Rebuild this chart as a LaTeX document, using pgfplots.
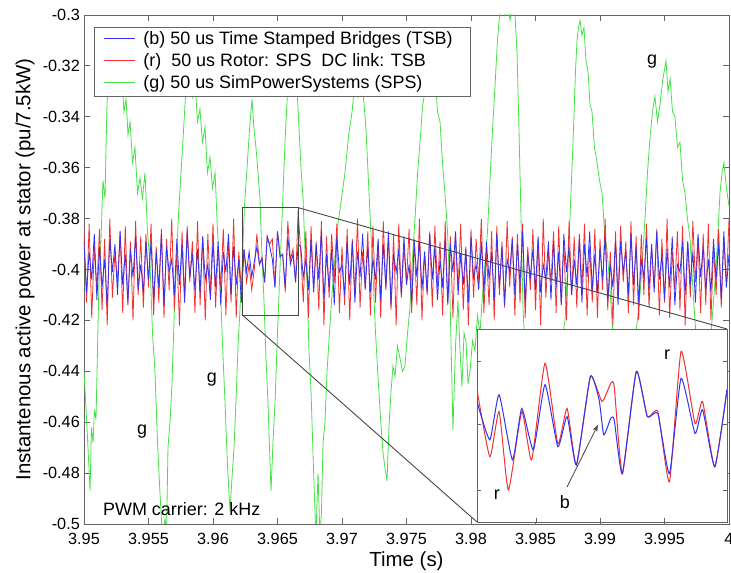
\documentclass[border=0pt]{standalone}
\usepackage{fontspec}
\setmainfont{Liberation Sans}
\usepackage{pgfplots}
\usepackage{pgfplotstable}
\pgfplotsset{compat=1.18}
\usetikzlibrary{arrows.meta}

\definecolor{tsb}{RGB}{50,50,240}
\definecolor{rot}{RGB}{240,50,50}
\definecolor{sps}{RGB}{70,225,70}
\definecolor{frame}{RGB}{100,100,100}
\definecolor{zoomline}{RGB}{70,70,70}

% stator power, TSB (b) and rotor SPS / DC link TSB (r)
\pgfplotstableread{
x b r
3.9500 -0.389 -0.386
3.9502 -0.409 -0.413
3.9504 -0.393 -0.382
3.9506 -0.404 -0.419
3.9508 -0.386 -0.391
3.9510 -0.412 -0.408
3.9512 -0.391 -0.384
3.9514 -0.407 -0.416
3.9516 -0.396 -0.388
3.9518 -0.414 -0.422
3.9520 -0.388 -0.380
3.9522 -0.401 -0.411
3.9524 -0.390 -0.393
3.9526 -0.410 -0.405
3.9528 -0.385 -0.385
3.9530 -0.406 -0.417
3.9532 -0.394 -0.383
3.9534 -0.413 -0.414
3.9536 -0.392 -0.389
3.9538 -0.403 -0.420
3.9540 -0.387 -0.381
3.9542 -0.408 -0.410
3.9544 -0.398 -0.387
3.9546 -0.409 -0.415
3.9548 -0.389 -0.386
3.9550 -0.404 -0.407
3.9552 -0.389 -0.382
3.9554 -0.412 -0.418
3.9556 -0.393 -0.391
3.9558 -0.407 -0.413
3.9560 -0.386 -0.384
3.9562 -0.414 -0.419
3.9564 -0.391 -0.388
3.9566 -0.401 -0.408
3.9568 -0.396 -0.380
3.9570 -0.410 -0.416
3.9572 -0.388 -0.393
3.9574 -0.406 -0.422
3.9576 -0.390 -0.385
3.9578 -0.413 -0.411
3.9580 -0.385 -0.383
3.9582 -0.403 -0.405
3.9584 -0.394 -0.389
3.9586 -0.408 -0.417
3.9588 -0.392 -0.381
3.9590 -0.409 -0.414
3.9592 -0.387 -0.387
3.9594 -0.404 -0.420
3.9596 -0.398 -0.386
3.9598 -0.412 -0.410
3.9600 -0.389 -0.382
3.9602 -0.407 -0.415
3.9604 -0.389 -0.391
3.9606 -0.414 -0.407
3.9608 -0.393 -0.384
3.9610 -0.401 -0.418
3.9612 -0.386 -0.388
3.9614 -0.410 -0.413
3.9616 -0.391 -0.380
3.9618 -0.406 -0.419
3.9620 -0.396 -0.393
3.9622 -0.413 -0.408
3.9624 -0.392 -0.392
3.9626 -0.401 -0.405
3.9628 -0.393 -0.398
3.9630 -0.403 -0.408
3.9632 -0.397 -0.400
3.9634 -0.391 -0.386
3.9636 -0.398 -0.398
3.9638 -0.396 -0.395
3.9640 -0.405 -0.405
3.9642 -0.387 -0.387
3.9644 -0.391 -0.390
3.9646 -0.396 -0.388
3.9648 -0.407 -0.407
3.9650 -0.385 -0.385
3.9652 -0.395 -0.395
3.9654 -0.394 -0.394
3.9656 -0.407 -0.409
3.9658 -0.387 -0.381
3.9660 -0.398 -0.396
3.9662 -0.394 -0.392
3.9664 -0.405 -0.405
3.9666 -0.390 -0.377
3.9668 -0.391 -0.393
3.9670 -0.403 -0.413
3.9672 -0.396 -0.385
3.9674 -0.408 -0.419
3.9676 -0.388 -0.383
3.9678 -0.409 -0.408
3.9680 -0.390 -0.389
3.9682 -0.404 -0.416
3.9684 -0.385 -0.381
3.9686 -0.412 -0.422
3.9688 -0.394 -0.387
3.9690 -0.407 -0.411
3.9692 -0.392 -0.386
3.9694 -0.414 -0.405
3.9696 -0.387 -0.382
3.9698 -0.401 -0.417
3.9700 -0.398 -0.391
3.9702 -0.410 -0.414
3.9704 -0.389 -0.384
3.9706 -0.406 -0.420
3.9708 -0.389 -0.388
3.9710 -0.413 -0.410
3.9712 -0.393 -0.380
3.9714 -0.403 -0.415
3.9716 -0.386 -0.393
3.9718 -0.408 -0.407
3.9720 -0.391 -0.385
3.9722 -0.409 -0.418
3.9724 -0.396 -0.383
3.9726 -0.404 -0.413
3.9728 -0.388 -0.389
3.9730 -0.412 -0.419
3.9732 -0.390 -0.381
3.9734 -0.407 -0.408
3.9736 -0.385 -0.387
3.9738 -0.414 -0.416
3.9740 -0.394 -0.386
3.9742 -0.401 -0.422
3.9744 -0.392 -0.382
3.9746 -0.410 -0.411
3.9748 -0.387 -0.391
3.9750 -0.406 -0.405
3.9752 -0.398 -0.384
3.9754 -0.413 -0.417
3.9756 -0.389 -0.388
3.9758 -0.403 -0.414
3.9760 -0.389 -0.380
3.9762 -0.408 -0.420
3.9764 -0.393 -0.393
3.9766 -0.409 -0.410
3.9768 -0.386 -0.385
3.9770 -0.404 -0.415
3.9772 -0.391 -0.383
3.9774 -0.412 -0.407
3.9776 -0.396 -0.389
3.9778 -0.407 -0.418
3.9780 -0.388 -0.381
3.9782 -0.414 -0.413
3.9784 -0.390 -0.387
3.9786 -0.401 -0.419
3.9788 -0.385 -0.386
3.9790 -0.410 -0.408
3.9792 -0.394 -0.382
3.9794 -0.406 -0.416
3.9796 -0.392 -0.391
3.9798 -0.413 -0.422
3.9800 -0.387 -0.384
3.9802 -0.403 -0.411
3.9804 -0.398 -0.388
3.9806 -0.408 -0.405
3.9808 -0.389 -0.380
3.9810 -0.409 -0.417
3.9812 -0.389 -0.393
3.9814 -0.404 -0.414
3.9816 -0.393 -0.385
3.9818 -0.412 -0.420
3.9820 -0.386 -0.383
3.9822 -0.407 -0.410
3.9824 -0.391 -0.389
3.9826 -0.414 -0.415
3.9828 -0.396 -0.381
3.9830 -0.401 -0.407
3.9832 -0.388 -0.387
3.9834 -0.410 -0.418
3.9836 -0.390 -0.386
3.9838 -0.406 -0.413
3.9840 -0.385 -0.382
3.9842 -0.413 -0.419
3.9844 -0.394 -0.391
3.9846 -0.403 -0.408
3.9848 -0.392 -0.384
3.9850 -0.408 -0.416
3.9852 -0.387 -0.388
3.9854 -0.409 -0.422
3.9856 -0.398 -0.380
3.9858 -0.404 -0.411
3.9860 -0.389 -0.393
3.9862 -0.412 -0.405
3.9864 -0.389 -0.385
3.9866 -0.407 -0.417
3.9868 -0.393 -0.383
3.9870 -0.414 -0.414
3.9872 -0.386 -0.389
3.9874 -0.401 -0.420
3.9876 -0.391 -0.381
3.9878 -0.410 -0.410
3.9880 -0.396 -0.387
3.9882 -0.406 -0.415
3.9884 -0.388 -0.386
3.9886 -0.413 -0.407
3.9888 -0.390 -0.382
3.9890 -0.403 -0.418
3.9892 -0.385 -0.391
3.9894 -0.408 -0.413
3.9896 -0.394 -0.384
3.9898 -0.409 -0.419
3.9900 -0.392 -0.388
3.9902 -0.404 -0.408
3.9904 -0.387 -0.380
3.9906 -0.412 -0.416
3.9908 -0.398 -0.393
3.9910 -0.407 -0.422
3.9912 -0.389 -0.385
3.9914 -0.414 -0.411
3.9916 -0.389 -0.383
3.9918 -0.401 -0.405
3.9920 -0.393 -0.389
3.9922 -0.410 -0.417
3.9924 -0.386 -0.381
3.9926 -0.406 -0.414
3.9928 -0.391 -0.387
3.9930 -0.413 -0.420
3.9932 -0.396 -0.386
3.9934 -0.403 -0.410
3.9936 -0.388 -0.382
3.9938 -0.408 -0.415
3.9940 -0.390 -0.391
3.9942 -0.409 -0.407
3.9944 -0.385 -0.384
3.9946 -0.404 -0.418
3.9948 -0.394 -0.388
3.9950 -0.412 -0.413
3.9952 -0.392 -0.380
3.9954 -0.407 -0.419
3.9956 -0.387 -0.393
3.9958 -0.414 -0.408
3.9960 -0.398 -0.385
3.9962 -0.401 -0.416
3.9964 -0.389 -0.383
3.9966 -0.410 -0.422
3.9968 -0.389 -0.389
3.9970 -0.406 -0.411
3.9972 -0.393 -0.381
3.9974 -0.413 -0.405
3.9976 -0.386 -0.387
3.9978 -0.403 -0.417
3.9980 -0.391 -0.386
3.9982 -0.408 -0.414
3.9984 -0.396 -0.382
3.9986 -0.409 -0.420
3.9988 -0.388 -0.391
3.9990 -0.404 -0.410
3.9992 -0.390 -0.384
3.9994 -0.412 -0.415
3.9996 -0.385 -0.388
3.9998 -0.407 -0.407
4.0000 -0.394 -0.380
}\bandtab

\begin{document}
\begin{tikzpicture}
\begin{axis}[
    name=main, at={(0,0)}, anchor=south west,
    width=645bp, height=509bp, scale only axis,
    xmin=3.95, xmax=4, ymin=-0.5, ymax=-0.3,
    xtick={3.95,3.955,3.96,3.965,3.97,3.975,3.98,3.985,3.99,3.995,4},
    xticklabels={3.95,3.955,3.96,3.965,3.97,3.975,3.98,3.985,3.99,3.995,4},
    ytick={-0.5,-0.48,-0.46,-0.44,-0.42,-0.4,-0.38,-0.36,-0.34,-0.32,-0.3},
    yticklabels={-0.5,-0.48,-0.46,-0.44,-0.42,-0.4,-0.38,-0.36,-0.34,-0.32,-0.3},
    tick align=inside, major tick length=6bp,
    axis line style={frame, line width=0.9bp},
    tick style={frame, line width=0.8bp},
    tick label style={font=\fontsize{16.3}{18}\selectfont},
    xticklabel style={inner sep=2bp, yshift=-7bp},
    yticklabel style={inner sep=2bp, xshift=-2bp},
    xlabel={Time (s)},
    ylabel={Instantenous active power at stator (pu/7.5kW)},
    label style={font=\fontsize{20.5}{22}\selectfont},
    xlabel style={at={(axis description cs:0.5,-0.0727)}, anchor=center},
    ylabel style={at={(axis description cs:-0.0915,0.5)}, anchor=center},
]
\addplot[sps, line width=0.8bp] table {
x y
3.95000 -0.440
3.95016 -0.455
3.95031 -0.470
3.95047 -0.487
3.95058 -0.462
3.95070 -0.468
3.95081 -0.455
3.95093 -0.459
3.95116 -0.405
3.95132 -0.388
3.95147 -0.365
3.95163 -0.372
3.95178 -0.335
3.95198 -0.322
3.95217 -0.312
3.95236 -0.325
3.95256 -0.318
3.95275 -0.330
3.95295 -0.326
3.95310 -0.338
3.95326 -0.333
3.95341 -0.347
3.95357 -0.342
3.95376 -0.358
3.95395 -0.352
3.95415 -0.370
3.95434 -0.364
3.95453 -0.372
3.95473 -0.362
3.95492 -0.385
3.95512 -0.398
3.95531 -0.425
3.95550 -0.440
3.95570 -0.468
3.95589 -0.488
3.95608 -0.505
3.95628 -0.498
3.95640 -0.503
3.95651 -0.470
3.95667 -0.460
3.95682 -0.445
3.95698 -0.420
3.95713 -0.400
3.95733 -0.378
3.95752 -0.362
3.95772 -0.345
3.95791 -0.328
3.95806 -0.322
3.95822 -0.316
3.95841 -0.332
3.95860 -0.326
3.95880 -0.342
3.95899 -0.337
3.95918 -0.350
3.95938 -0.344
3.95957 -0.362
3.95977 -0.356
3.95996 -0.368
3.96016 -0.362
3.96035 -0.385
3.96054 -0.402
3.96074 -0.430
3.96093 -0.452
3.96113 -0.478
3.96132 -0.495
3.96147 -0.482
3.96163 -0.470
3.96178 -0.452
3.96194 -0.430
3.96210 -0.415
3.96225 -0.400
3.96244 -0.375
3.96264 -0.360
3.96283 -0.345
3.96302 -0.333
3.96318 -0.345
3.96333 -0.352
3.96349 -0.362
3.96364 -0.372
3.96380 -0.395
3.96395 -0.412
3.96411 -0.435
3.96426 -0.452
3.96438 -0.470
3.96450 -0.487
3.96465 -0.468
3.96481 -0.452
3.96500 -0.425
3.96519 -0.400
3.96539 -0.375
3.96558 -0.350
3.96573 -0.335
3.96589 -0.318
3.96605 -0.322
3.96620 -0.312
3.96636 -0.330
3.96651 -0.328
3.96667 -0.345
3.96682 -0.360
3.96698 -0.372
3.96713 -0.392
3.96729 -0.405
3.96744 -0.432
3.96760 -0.448
3.96775 -0.472
3.96787 -0.490
3.96798 -0.505
3.96814 -0.480
3.96829 -0.505
3.96841 -0.495
3.96853 -0.468
3.96868 -0.460
3.96884 -0.440
3.96903 -0.425
3.96922 -0.410
3.96946 -0.395
3.96969 -0.382
3.96996 -0.372
3.97023 -0.362
3.97050 -0.348
3.97078 -0.338
3.97101 -0.326
3.97124 -0.332
3.97147 -0.322
3.97171 -0.335
3.97186 -0.345
3.97202 -0.362
3.97221 -0.382
3.97240 -0.402
3.97260 -0.425
3.97279 -0.442
3.97298 -0.458
3.97318 -0.472
3.97333 -0.478
3.97349 -0.483
3.97364 -0.462
3.97380 -0.448
3.97395 -0.438
3.97411 -0.442
3.97430 -0.430
3.97450 -0.435
3.97469 -0.440
3.97488 -0.438
3.97508 -0.425
3.97527 -0.415
3.97547 -0.395
3.97566 -0.380
3.97586 -0.362
3.97605 -0.350
3.97624 -0.336
3.97643 -0.330
3.97663 -0.322
3.97682 -0.318
3.97702 -0.327
3.97721 -0.323
3.97740 -0.338
3.97760 -0.342
3.97779 -0.358
3.97798 -0.370
3.97818 -0.385
3.97837 -0.410
3.97860 -0.463
3.97880 -0.430
3.97899 -0.412
3.97915 -0.432
3.97930 -0.446
3.97946 -0.425
3.97961 -0.428
3.97977 -0.445
3.97992 -0.440
3.98012 -0.428
3.98031 -0.432
3.98050 -0.418
3.98070 -0.425
3.98089 -0.410
3.98109 -0.398
3.98128 -0.385
3.98147 -0.365
3.98167 -0.345
3.98186 -0.328
3.98205 -0.310
3.98225 -0.298
3.98244 -0.292
3.98264 -0.300
3.98283 -0.295
3.98302 -0.302
3.98322 -0.296
3.98341 -0.300
3.98357 -0.315
3.98372 -0.345
3.98388 -0.380
3.98403 -0.415
3.98419 -0.432
3.98434 -0.440
3.98465 -0.435
3.98496 -0.442
3.98535 -0.448
3.98574 -0.452
3.98612 -0.446
3.98651 -0.440
3.98690 -0.432
3.98729 -0.420
3.98748 -0.400
3.98767 -0.380
3.98783 -0.360
3.98798 -0.340
3.98810 -0.322
3.98822 -0.310
3.98833 -0.305
3.98845 -0.302
3.98860 -0.308
3.98876 -0.305
3.98891 -0.318
3.98907 -0.322
3.98922 -0.335
3.98938 -0.338
3.98957 -0.352
3.98977 -0.358
3.98996 -0.365
3.99016 -0.370
3.99035 -0.385
3.99054 -0.392
3.99074 -0.405
3.99093 -0.420
3.99116 -0.435
3.99140 -0.450
3.99167 -0.458
3.99194 -0.462
3.99221 -0.452
3.99248 -0.440
3.99279 -0.425
3.99310 -0.410
3.99330 -0.395
3.99349 -0.380
3.99368 -0.362
3.99388 -0.348
3.99407 -0.338
3.99426 -0.332
3.99446 -0.342
3.99465 -0.335
3.99488 -0.325
3.99512 -0.318
3.99527 -0.330
3.99543 -0.325
3.99562 -0.338
3.99581 -0.340
3.99601 -0.352
3.99620 -0.350
3.99640 -0.365
3.99659 -0.370
3.99678 -0.380
3.99698 -0.388
3.99717 -0.405
3.99736 -0.420
3.99764 -0.438
3.99791 -0.450
3.99822 -0.445
3.99853 -0.430
3.99876 -0.415
3.99899 -0.400
3.99915 -0.385
3.99930 -0.370
3.99946 -0.362
3.99961 -0.358
3.99980 -0.368
4.00000 -0.375
};
\addplot[rot, line width=0.8bp] table[x=x, y=r] {\bandtab};
\addplot[tsb, line width=0.8bp] table[x=x, y=b] {\bandtab};

\draw[zoomline, line width=0.9bp] (axis cs:3.9623,-0.418) rectangle (axis cs:3.9666,-0.3757);
\coordinate (zTR) at (axis cs:3.9666,-0.3757);
\coordinate (zBL) at (axis cs:3.9623,-0.418);

\node[font=\fontsize{18}{18}\selectfont] at (axis cs:3.99403,-0.3184) {g};
\node[font=\fontsize{18}{18}\selectfont] at (axis cs:3.95992,-0.4431) {g};
\node[font=\fontsize{18}{18}\selectfont] at (axis cs:3.95450,-0.4635) {g};
\node[font=\fontsize{18}{18}\selectfont, anchor=west, inner sep=0pt]
    at (axis cs:3.95147,-0.4941) {PWM carrier: 2 kHz};

% legend box, sample lines drawn separately
\node[draw=frame, line width=0.9bp, fill=white, anchor=north west,
      inner xsep=10bp, inner ysep=1.5bp,
      font=\fontsize{18}{22}\selectfont] (leg)
    at (rel axis cs:0.0155,0.9764) {%
    \begin{tabular}{@{}l@{\hspace{8bp}}l@{\hspace{8bp}}}
    \hspace{31bp} & (b) 50 us Time Stamped Bridges (TSB)\\
    & (r)\ \ 50 us Rotor: SPS\ \ DC link: TSB\\
    & (g) 50 us SimPowerSystems (SPS)
    \end{tabular}};
\draw[tsb, line width=0.9bp] ([xshift=10bp, yshift=-11bp]leg.north west) -- ++(31bp,0bp);
\draw[rot, line width=0.9bp] ([xshift=10bp, yshift=-33bp]leg.north west) -- ++(31bp,0bp);
\draw[sps, line width=0.9bp] ([xshift=10bp, yshift=-55bp]leg.north west) -- ++(31bp,0bp);
\end{axis}

\draw[zoomline, line width=0.9bp] (zTR) -- (643bp,195bp);
\draw[zoomline, line width=0.9bp] (zBL) -- (393bp,2bp);

\begin{axis}[
    name=inset, at={(393bp,2bp)}, anchor=south west,
    width=250bp, height=193bp, scale only axis,
    xmin=3.9623, xmax=3.9666, ymin=-0.418, ymax=-0.3757,
    axis background/.style={fill=white},
    xtick={3.96333,3.96443,3.96553}, xticklabels={},
    ytick={-0.411,-0.3967,-0.3829}, yticklabels={},
    xtick pos=left,
    tick align=inside, major tick length=4bp,
    axis line style={frame, line width=0.9bp},
    tick style={frame, line width=0.8bp},
]
\addplot[rot, line width=1bp, smooth, tension=0.3] coordinates {
(3.96230,-0.3890) (3.96252,-0.4037) (3.96268,-0.3938) (3.96284,-0.4110)
(3.96307,-0.3938) (3.96324,-0.4044) (3.96347,-0.3832) (3.96369,-0.4008)
(3.96385,-0.3931) (3.96401,-0.4055) (3.96425,-0.3861) (3.96445,-0.3916)
(3.96460,-0.3876) (3.96466,-0.3883) (3.96480,-0.4074) (3.96504,-0.3850)
(3.96523,-0.3949) (3.96541,-0.3938) (3.96561,-0.4092) (3.96581,-0.3806)
(3.96605,-0.3964) (3.96618,-0.3916) (3.96639,-0.4059) (3.96660,-0.3890)
};
\addplot[tsb, line width=1bp, smooth, tension=0.3] coordinates {
(3.96230,-0.3916) (3.96252,-0.4000) (3.96268,-0.3901) (3.96291,-0.4044)
(3.96307,-0.3931) (3.96327,-0.4022) (3.96347,-0.3879) (3.96369,-0.4015)
(3.96385,-0.3949) (3.96401,-0.4055) (3.96425,-0.3861) (3.96440,-0.3912)
(3.96448,-0.3989) (3.96460,-0.3953) (3.96466,-0.3956) (3.96480,-0.4074)
(3.96504,-0.3850) (3.96523,-0.3949) (3.96541,-0.3942) (3.96561,-0.4074)
(3.96581,-0.3865) (3.96605,-0.3986) (3.96618,-0.3934) (3.96639,-0.4059)
(3.96660,-0.3890)
};
\node[font=\fontsize{18}{18}\selectfont] at (axis cs:3.96557,-0.3814) {r};
\node[font=\fontsize{18}{18}\selectfont] at (axis cs:3.96264,-0.4121) {r};
\node[font=\fontsize{18}{18}\selectfont] at (axis cs:3.96381,-0.4136) {b};
\draw[zoomline, line width=0.8bp, -{Stealth[length=7bp,width=5bp]}]
    (axis cs:3.96385,-0.4103) -- (axis cs:3.96438,-0.3967);
\end{axis}
\pgfresetboundingbox
\path[use as bounding box] (-84bp,-49bp) rectangle (647bp,524bp);
\end{tikzpicture}
\end{document}
